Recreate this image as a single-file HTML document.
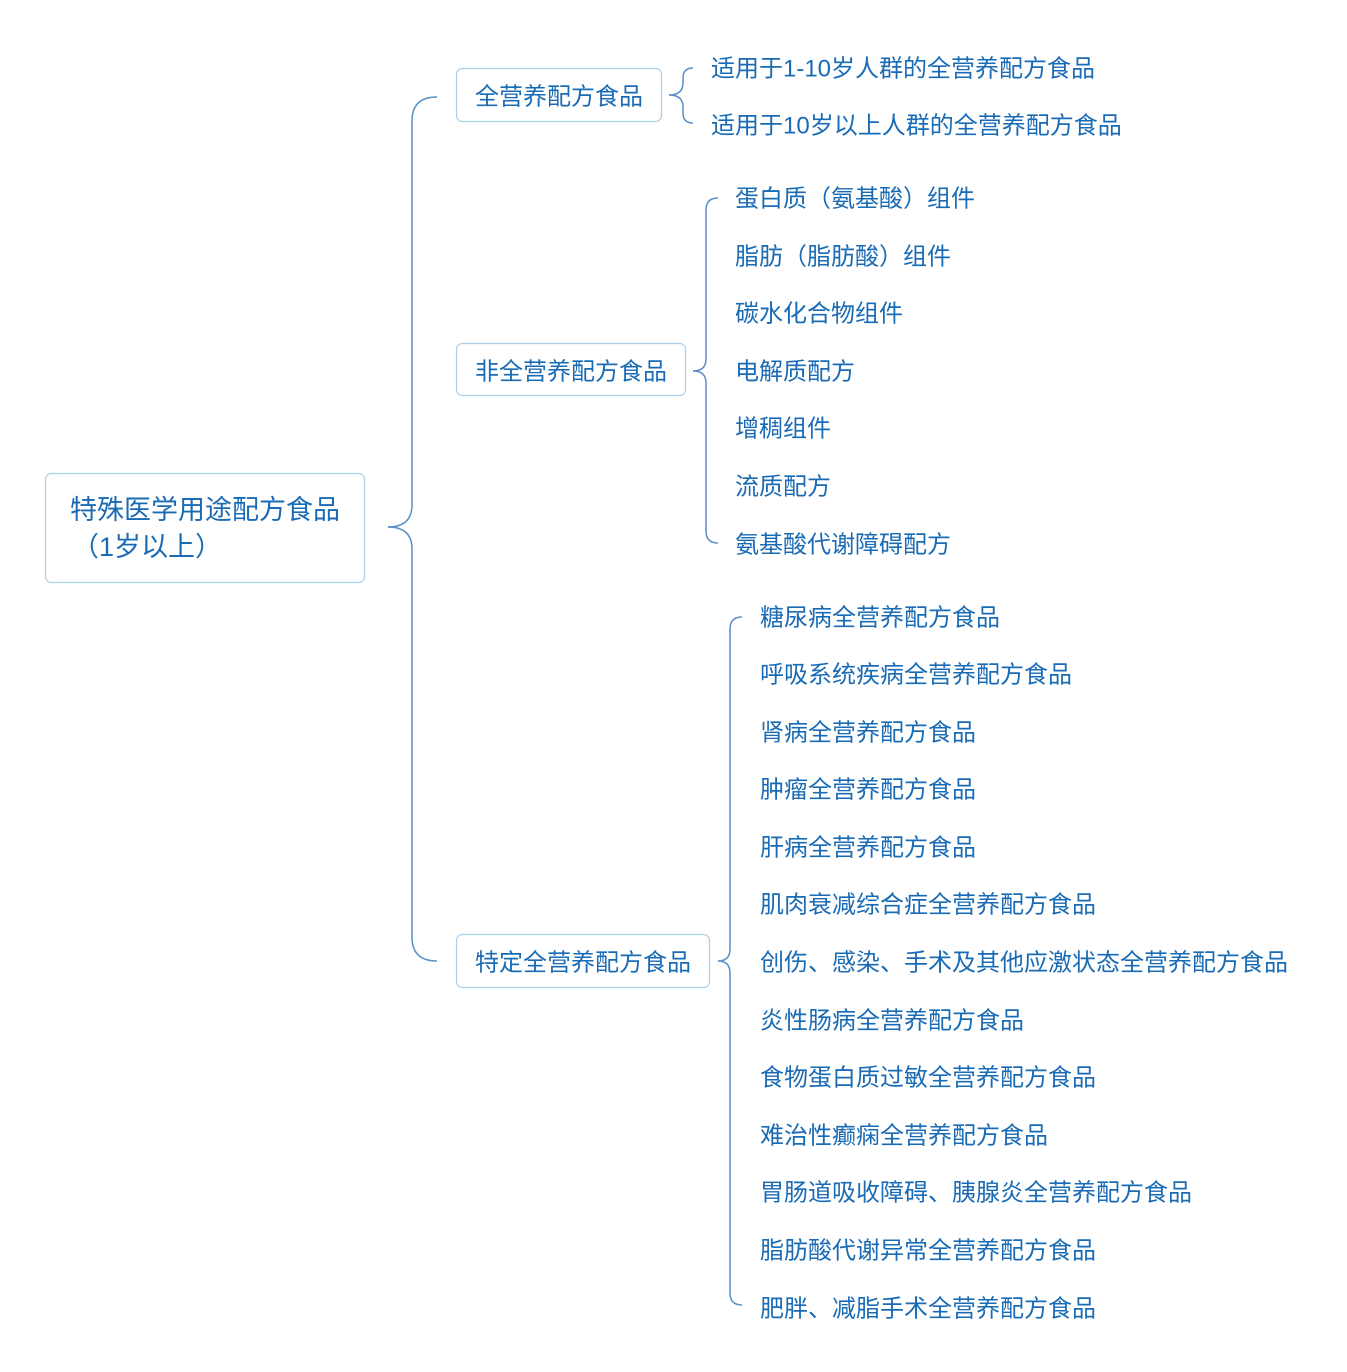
<!DOCTYPE html>
<html><head><meta charset="utf-8"><style>
html,body{margin:0;padding:0;background:#fff;}
svg{display:block;}
text{font-family:"Liberation Sans","Noto Sans CJK SC",sans-serif;fill:#1a6bb5;dominant-baseline:central;}
</style></head><body>
<svg width="1347" height="1372" viewBox="0 0 1347 1372">
<g fill="none" stroke="#5b8fc7" stroke-width="1.5">
<path d="M388 527 Q412 527 412 505 L412 121 Q412 97 437 97"/>
<path d="M388 527 Q412 527 412 549 L412 937 Q412 961 437 961"/>
<path d="M669 95 Q683 95 683 83 L683 78 Q683 68 693 68"/>
<path d="M669 95 Q683 95 683 107 L683 113 Q683 123 693 123"/>
<path d="M693 371 Q706 371 706 359 L706 210 Q706 198 718 198"/>
<path d="M693 371 Q706 371 706 383 L706 531 Q706 543 718 543"/>
<path d="M718 961 Q730 961 730 949 L730 629 Q730 617 742 617"/>
<path d="M718 961 Q730 961 730 973 L730 1293 Q730 1305 742 1305"/>
</g>
<g fill="#fff" stroke="#a8cde8" stroke-width="1.2">
<rect x="45.5" y="473.5" width="319" height="109" rx="6"/>
<rect x="456.5" y="68.5" width="205" height="53" rx="6"/>
<rect x="456.5" y="343.5" width="229" height="52" rx="6"/>
<rect x="456.5" y="934.5" width="253" height="53" rx="6"/>
</g>
<g font-size="27">
<text x="70" y="510">特殊医学用途配方食品</text>
<text x="72" y="547">（1岁以上）</text>
</g>
<g font-size="24" transform="translate(0,1)">
<text x="475" y="96">全营养配方食品</text>
<text x="475" y="371">非全营养配方食品</text>
<text x="475" y="962">特定全营养配方食品</text>
<text x="711" y="68">适用于1-10岁人群的全营养配方食品</text>
<text x="711" y="125">适用于10岁以上人群的全营养配方食品</text>
<text x="735" y="198">蛋白质（氨基酸）组件</text>
<text x="735" y="256">脂肪（脂肪酸）组件</text>
<text x="735" y="313">碳水化合物组件</text>
<text x="735" y="371">电解质配方</text>
<text x="735" y="428">增稠组件</text>
<text x="735" y="486">流质配方</text>
<text x="735" y="544">氨基酸代谢障碍配方</text>
<text x="760" y="617">糖尿病全营养配方食品</text>
<text x="760" y="674">呼吸系统疾病全营养配方食品</text>
<text x="760" y="732">肾病全营养配方食品</text>
<text x="760" y="789">肿瘤全营养配方食品</text>
<text x="760" y="847">肝病全营养配方食品</text>
<text x="760" y="904">肌肉衰减综合症全营养配方食品</text>
<text x="760" y="962">创伤、感染、手术及其他应激状态全营养配方食品</text>
<text x="760" y="1020">炎性肠病全营养配方食品</text>
<text x="760" y="1077">食物蛋白质过敏全营养配方食品</text>
<text x="760" y="1135">难治性癫痫全营养配方食品</text>
<text x="760" y="1192">胃肠道吸收障碍、胰腺炎全营养配方食品</text>
<text x="760" y="1250">脂肪酸代谢异常全营养配方食品</text>
<text x="760" y="1308">肥胖、减脂手术全营养配方食品</text>
</g>
</svg>
</body></html>
